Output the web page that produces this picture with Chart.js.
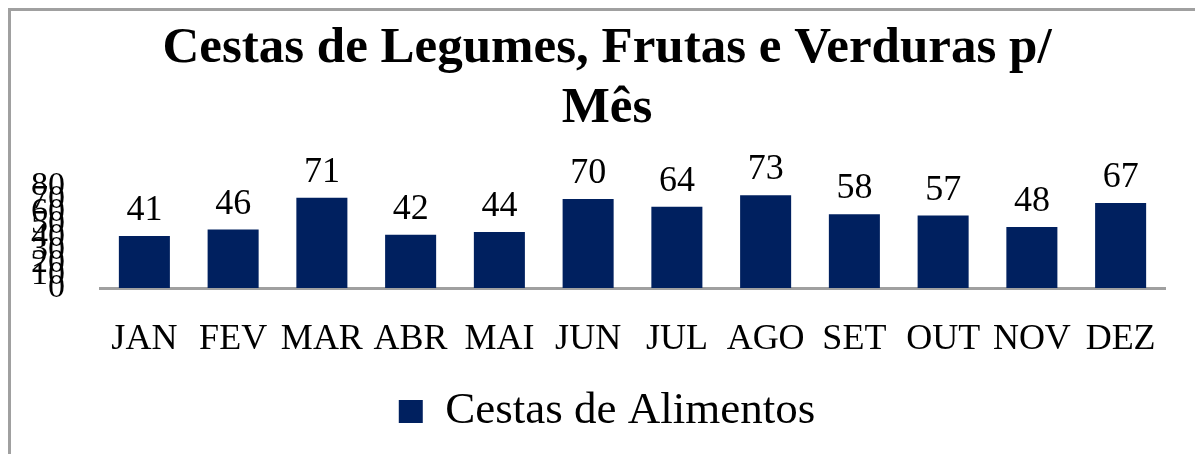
<!DOCTYPE html>
<html>
<head>
<meta charset="utf-8">
<script src="https://cdn.jsdelivr.net/npm/chart.js@4"></script>
<style>
  html, body { margin: 0; padding: 0; background: #fff; }
  #wrap { position: relative; width: 1195px; height: 454px; }
  #frame {
    position: absolute; left: 8px; top: 8px; right: -10px; bottom: -10px;
    border-left: 3px solid #a0a0a0; border-top: 3px solid #a0a0a0;
  }
  canvas { position: absolute; left: 0; top: 0; }
</style>
</head>
<body>
<div id="wrap">
  <div id="frame"></div>
  <canvas id="chart" width="1195" height="454"></canvas>
</div>
<script>
const months = ["JAN", "FEV", "MAR", "ABR", "MAI", "JUN", "JUL", "AGO", "SET", "OUT", "NOV", "DEZ"];
const cestas = [41, 46, 71, 42, 44, 70, 64, 73, 58, 57, 48, 67];
const seriesName = "Cestas de Alimentos";
const titleLines = ["Cestas de Legumes, Frutas e Verduras p/", "Mês"];

const serif = "'Liberation Serif', 'DejaVu Serif', serif";
const navy = "#00205f";

// numbers over each bar
const valueLabels = {
  id: "valueLabels",
  afterDatasetsDraw(chart) {
    const ctx = chart.ctx;
    const meta = chart.getDatasetMeta(0);
    ctx.save();
    ctx.font = "36px " + serif;
    ctx.fillStyle = "#000";
    ctx.textAlign = "center";
    ctx.textBaseline = "alphabetic";
    meta.data.forEach((bar, i) => {
      ctx.fillText(String(cestas[i]), bar.x, bar.y - 16);
    });
    ctx.restore();
  },
};

new Chart(document.getElementById("chart"), {
  type: "bar",
  data: {
    labels: months,
    datasets: [
      {
        label: seriesName,
        data: cestas,
        backgroundColor: navy,
        barPercentage: 0.575,
        categoryPercentage: 1,
      },
    ],
  },
  options: {
    responsive: false,
    animation: false,
    layout: { padding: { left: 20, right: 1, top: 0, bottom: 10 } },
    plugins: {
      title: {
        display: true,
        text: titleLines,
        color: "#000",
        font: { family: serif, size: 51, weight: "bold", lineHeight: 1.18 },
        padding: { top: 19, bottom: 47 },
      },
      legend: {
        position: "bottom",
        labels: {
          color: "#000",
          font: { family: serif, size: 45 },
          boxWidth: 24,
          boxHeight: 23,
          padding: 6,
        },
      },
      tooltip: { enabled: false },
    },
    scales: {
      x: {
        grid: { display: false, drawTicks: false },
        border: { display: true, color: "#a0a0a0", width: 3 },
        ticks: { color: "#000", font: { family: serif, size: 36 }, padding: 30, maxRotation: 0, autoSkip: false },
        afterFit(scale) {
          scale.height = 95;
        },
      },
      y: {
        min: 0,
        max: 80,
        grid: { display: false, drawTicks: false },
        border: { display: false },
        ticks: { stepSize: 10, autoSkip: false, color: "#000", font: { family: serif, size: 34 }, padding: 35 },
        afterFit(scale) {
          scale.width = 80;
        },
      },
      // empty right margin so title and legend sit a bit right of centre
      spacer: {
        type: "linear",
        position: "right",
        grid: { display: false, drawTicks: false },
        border: { display: false },
        ticks: { display: false },
        afterFit(scale) {
          scale.width = 29;
        },
      },
    },
  },
  plugins: [valueLabels],
});
</script>
</body>
</html>
